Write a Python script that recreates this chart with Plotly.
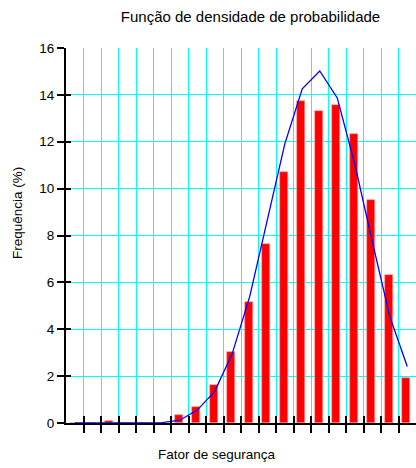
import plotly.graph_objects as go

# Classes of the safety factor (20 bins, positions 0..19)
classes = list(range(20))

# Observed relative frequency per class (%)
freq_obs = [0, 0, 0.1, 0, 0, 0, 0.35, 0.68, 1.63, 3.01,
            5.15, 7.64, 10.69, 13.72, 13.32, 13.57, 12.33, 9.51, 6.31, 1.92]

# Fitted probability density curve (%)
freq_fit = [0, 0, 0, 0, 0, 0.02, 0.12, 0.55, 1.35, 2.96,
            5.4, 8.6, 11.9, 14.26, 15.02, 13.87, 11.05, 7.75, 4.55, 2.41]

y_ticks = [0, 2, 4, 6, 8, 10, 12, 14, 16]
class_edges = [c + 0.5 for c in classes[:-1]]

font_family = "Liberation Sans, Arial, sans-serif"
grid_color = "#00ffff"

fig = go.Figure()

fig.add_trace(go.Bar(
    x=classes, y=freq_obs,
    width=0.45, offset=-0.29,
    marker=dict(color="#ff0000", line=dict(color="#ff9c9c", width=0.6)),
    showlegend=False,
))

fig.add_trace(go.Scatter(
    x=classes, y=freq_fit, mode="lines",
    line=dict(color="#0000ff", width=1.3),
    cliponaxis=False, showlegend=False,
))

# empty trace on the overlay axes that carry the inner half of the ticks
fig.add_trace(go.Scatter(x=[], y=[], xaxis="x2", yaxis="y2", showlegend=False))

x_range = [-0.5, 19.5]
y_range = [0, 16]

fig.update_layout(
    width=416, height=468,
    margin=dict(l=66, r=0, t=48, b=45),
    paper_bgcolor="white", plot_bgcolor="white",
    font=dict(family=font_family, color="#000000", size=13.5),
    title=dict(
        text="Função de densidade de probabilidade",
        x=250.5 / 416, xref="container", xanchor="center",
        y=1 - 17 / 468, yref="container", yanchor="middle",
        font=dict(size=15, color="#000000"),
    ),
    xaxis=dict(
        range=x_range, tickmode="array", tickvals=class_edges,
        showticklabels=False, showgrid=True, gridcolor=grid_color, gridwidth=1,
        zeroline=False, showline=True, linecolor="#000000", linewidth=2,
        ticks="outside", ticklen=8, tickwidth=2, tickcolor="#000000",
        layer="below traces",
    ),
    yaxis=dict(
        range=y_range, tickmode="array", tickvals=y_ticks,
        ticktext=[str(v) for v in y_ticks],
        showgrid=True, gridcolor=grid_color, gridwidth=1,
        zeroline=False, showline=True, linecolor="#000000", linewidth=2,
        ticks="outside", ticklen=7, tickwidth=2, tickcolor="#000000",
        tickfont=dict(size=13.5, color="#000000"),
    ),
    xaxis2=dict(
        range=x_range, overlaying="x", anchor="y2", side="bottom",
        tickmode="array", tickvals=class_edges, showticklabels=False,
        showgrid=False, zeroline=False, showline=False,
        ticks="inside", ticklen=7, tickwidth=2, tickcolor="#000000",
    ),
    yaxis2=dict(
        range=y_range, overlaying="y", anchor="x2", side="left",
        tickmode="array", tickvals=y_ticks, showticklabels=False,
        showgrid=False, zeroline=False, showline=False,
        ticks="inside", ticklen=5, tickwidth=2, tickcolor="#000000",
    ),
    annotations=[
        dict(text="Frequência (%)", xref="paper", yref="paper",
             x=(17.5 - 66) / 350, y=(423 - 213.5) / 375,
             xanchor="center", yanchor="middle", textangle=-90,
             showarrow=False, font=dict(size=13.5, color="#000000")),
        dict(text="Fator de segurança", xref="paper", yref="paper",
             x=(216.5 - 66) / 350, y=(423 - 454) / 375,
             xanchor="center", yanchor="middle",
             showarrow=False, font=dict(size=13.5, color="#000000")),
    ],
    bargap=0,
)

fig.write_html("out.html")
